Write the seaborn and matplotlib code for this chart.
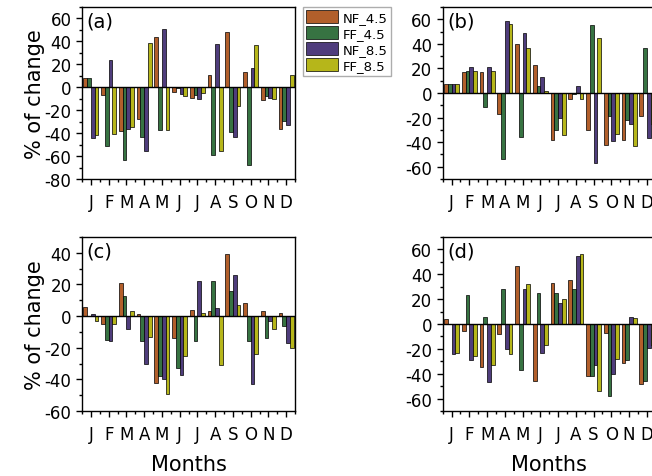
import pandas as pd
import matplotlib
matplotlib.use("Agg")
import matplotlib.pyplot as plt
import seaborn as sns
from matplotlib.ticker import MultipleLocator

# categories
months = ["Jan", "Feb", "Mar", "Apr", "May", "Jun",
          "Jul", "Aug", "Sep", "Oct", "Nov", "Dec"]
month_letters = ["J", "F", "M", "A", "M", "J", "J", "A", "S", "O", "N", "D"]
series = ["NF_4.5", "FF_4.5", "NF_8.5", "FF_8.5"]
colors = ["#c85a14", "#2d7d3c", "#4b3287", "#d0d000"]

# panel (a)
a_nf45 = [8, -7, -38, -28, 44, -4, -9, 11, 48, 13, -11, -36]
a_ff45 = [8, -51, -63, -43, -37, -1, -7, -59, -39, -68, -8, -29]
a_nf85 = [-44, 24, -36, -56, 51, -6, -10, 38, -43, 17, -9, -33]
a_ff85 = [-42, -41, -35, 39, -37, -8, -5, -56, -16, 37, -10, 11]

# panel (b)
b_nf45 = [7, 17, 17, -17, 40, 23, -38, -5, -30, -42, -38, -19]
b_ff45 = [7, 18, -11, -54, -36, 6, -30, -1, 55, -19, -22, 37]
b_nf85 = [7, 21, 21, 59, 49, 13, -20, 6, -57, -39, -25, -37]
b_ff85 = [7, 18, 18, 56, 37, 2, -34, -5, 45, -33, -43, -25]

# panel (c)
c_nf45 = [6, -5, 21, 1, -42, -14, 4, 3, 39, 8, 3, 2]
c_ff45 = [0, -15, 13, -16, -38, -33, -16, 22, 16, -16, -14, -6]
c_nf85 = [1, -16, -8, -30, -40, -37, 22, 5, 26, -43, -3, -17]
c_ff85 = [-3, -5, 3, -13, -49, -25, 2, -31, 7, -24, -8, -20]

# panel (d)
d_nf45 = [4, -6, -35, -8, 47, -46, 33, 35, -42, -7, -31, -48]
d_ff45 = [0, 23, 6, 28, -37, 25, 25, 28, -42, -58, -29, -46]
d_nf85 = [-24, -29, -47, -20, 28, -23, 17, 55, -33, -40, 6, -19]
d_ff85 = [-23, -26, -33, -24, 32, -17, 20, 56, -54, -28, 5, -17]


def long_table(cols):
    rows = []
    for name, vals in zip(series, cols):
        for m, v in zip(months, vals):
            rows.append((m, name, v))
    return pd.DataFrame(rows, columns=["month", "scenario", "change"])


panels = [
    ("(a)", [a_nf45, a_ff45, a_nf85, a_ff85], (-80, 70)),
    ("(b)", [b_nf45, b_ff45, b_nf85, b_ff85], (-70, 70)),
    ("(c)", [c_nf45, c_ff45, c_nf85, c_ff85], (-60, 50)),
    ("(d)", [d_nf45, d_ff45, d_nf85, d_ff85], (-70, 70)),
]

sns.set_style("ticks")
plt.rcParams["font.family"] = ["DejaVu Sans"]
plt.rcParams["axes.unicode_minus"] = False
plt.rcParams["text.color"] = "black"
plt.rcParams["axes.labelcolor"] = "black"
plt.rcParams["xtick.color"] = "black"
plt.rcParams["ytick.color"] = "black"

fig = plt.figure(figsize=(6.52, 4.77), dpi=100)
positions = [
    [0.1258, 0.6226, 0.3267, 0.3606],
    [0.6790, 0.6226, 0.3267, 0.3606],
    [0.1258, 0.1363, 0.3267, 0.3648],
    [0.6790, 0.1363, 0.3267, 0.3648],
]

axes = []
for (tag, cols, ylim), pos in zip(panels, positions):
    ax = fig.add_axes(pos)
    df = long_table(cols)
    sns.barplot(data=df, x="month", y="change", hue="scenario",
                order=months, hue_order=series, palette=colors,
                width=0.85, edgecolor="black", linewidth=0.5,
                errorbar=None, ax=ax)
    ax.axhline(0, color="black", lw=1.0, zorder=5)
    ax.set_ylim(*ylim)
    ax.set_xlim(-0.5, 11.5)
    ax.yaxis.set_major_locator(MultipleLocator(20))
    ax.yaxis.set_minor_locator(MultipleLocator(10))
    ax.set_xticks(range(12))
    ax.set_xticklabels(month_letters)
    ax.set_xticks([i - 0.5 for i in range(13)], minor=True)
    ax.tick_params(axis="both", which="major", direction="out", length=4,
                   width=1, labelsize=12, color="black", labelcolor="black")
    ax.tick_params(axis="both", which="minor", direction="out", length=2.5,
                   width=1, color="black")
    ax.tick_params(axis="x", which="major", pad=6)
    for s in ax.spines.values():
        s.set_visible(True)
        s.set_color("black")
        s.set_linewidth(1)
    ax.set_xlabel("")
    ax.set_ylabel("")
    ax.text(0.02, 0.975, tag, transform=ax.transAxes, ha="left", va="top",
            fontsize=14, color="black")
    axes.append(ax)

handles, labels = axes[0].get_legend_handles_labels()
for ax in axes:
    if ax.get_legend() is not None:
        ax.get_legend().remove()

axes[0].set_ylabel("% of change", fontsize=15, labelpad=0)
axes[2].set_ylabel("% of change", fontsize=15, labelpad=0)
axes[2].set_xlabel("Months", fontsize=15, labelpad=8)
axes[3].set_xlabel("Months", fontsize=15, labelpad=8)

leg = fig.legend(handles, labels, loc="upper left",
                 bbox_to_anchor=(303 / 652, 1 - 8 / 477), fontsize=9.5,
                 frameon=True, fancybox=False, edgecolor="#999999",
                 handlelength=2.4, handleheight=1.15, handletextpad=0.35,
                 labelspacing=0.15, borderpad=0.25, borderaxespad=0)
leg.get_frame().set_linewidth(1)

fig.savefig("out.png", dpi=100)
